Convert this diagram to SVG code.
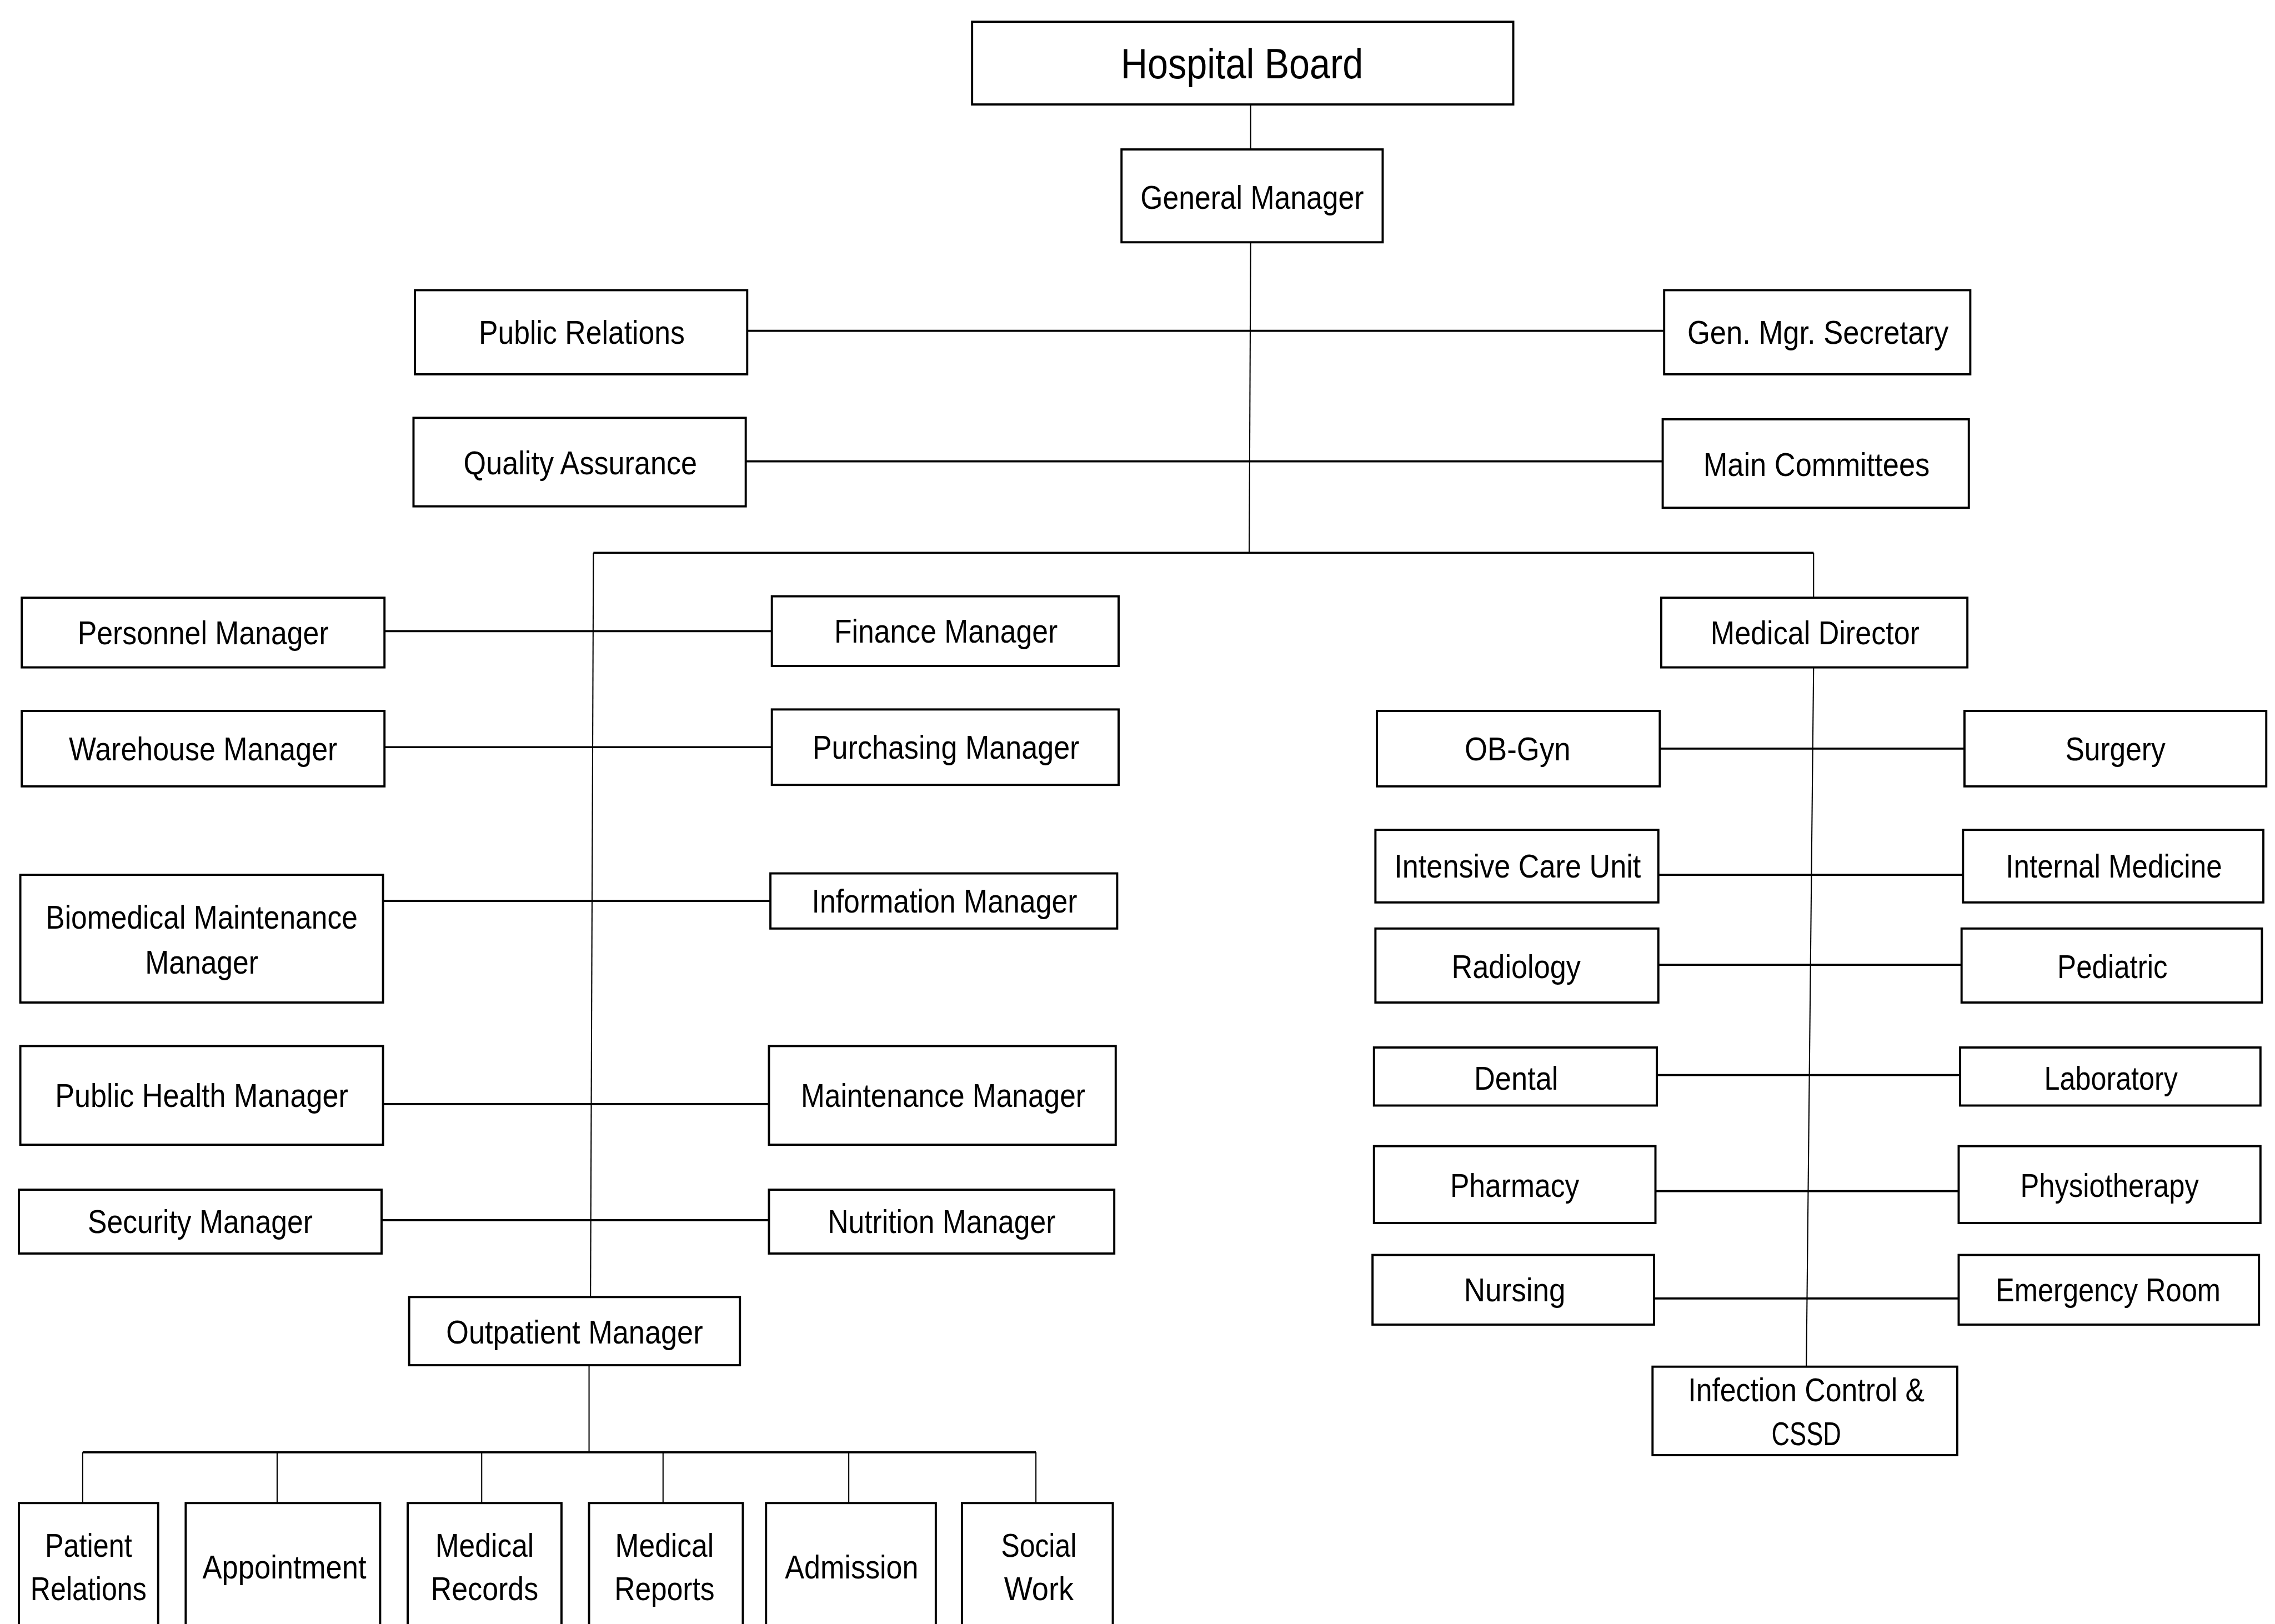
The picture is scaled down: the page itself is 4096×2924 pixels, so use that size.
<svg xmlns="http://www.w3.org/2000/svg" width="4096" height="2924" viewBox="0 0 4096 2924">
<style>
.b{fill:#fff;stroke:#000;stroke-width:1.5}
.t{font-family:"Liberation Sans",Arial,sans-serif;font-size:22.5px;fill:#000;text-anchor:middle}
.big{font-size:29px}
.h{stroke:#000;stroke-width:1.4;fill:none}
.v{stroke:#000;stroke-width:0.8;fill:none}
</style>
<rect width="4096" height="2924" fill="#fff"/>
<g transform="scale(2.6122)">
<g id="connectors">
<line class="v" x1="862" y1="72" x2="862" y2="103"/>
<line class="v" x1="862" y1="167" x2="861" y2="381"/>
<line class="h" x1="515" y1="228" x2="1147" y2="228"/>
<line class="h" x1="514" y1="318" x2="1146" y2="318"/>
<polyline class="h" points="409,381 1250,381"/>
<line class="v" x1="409" y1="381" x2="407" y2="894"/>
<line class="v" x1="1250" y1="381" x2="1250" y2="412"/>
<line class="h" x1="265" y1="435" x2="532" y2="435"/>
<line class="h" x1="265" y1="515" x2="532" y2="515"/>
<line class="h" x1="264" y1="621" x2="531" y2="621"/>
<line class="h" x1="264" y1="761" x2="530" y2="761"/>
<line class="h" x1="263" y1="841" x2="530" y2="841"/>
<line class="v" x1="406" y1="941" x2="406" y2="1001"/>
<line class="h" x1="57" y1="1001" x2="714" y2="1001"/>
<line class="v" x1="57" y1="1001" x2="57" y2="1036"/>
<line class="v" x1="191" y1="1001" x2="191" y2="1036"/>
<line class="v" x1="332" y1="1001" x2="332" y2="1036"/>
<line class="v" x1="457" y1="1001" x2="457" y2="1036"/>
<line class="v" x1="585" y1="1001" x2="585" y2="1036"/>
<line class="v" x1="714" y1="1001" x2="714" y2="1036"/>
<line class="v" x1="1250" y1="460" x2="1245" y2="942"/>
<line class="h" x1="1144" y1="516" x2="1354" y2="516"/>
<line class="h" x1="1143" y1="603" x2="1353" y2="603"/>
<line class="h" x1="1143" y1="665" x2="1352" y2="665"/>
<line class="h" x1="1142" y1="741" x2="1351" y2="741"/>
<line class="h" x1="1141" y1="821" x2="1350" y2="821"/>
<line class="h" x1="1140" y1="895" x2="1350" y2="895"/>
</g>
<g id="hospital-board"><rect class="b" x="670" y="15" width="373" height="57"/><text class="t big" x="856" y="54" textLength="167" lengthAdjust="spacingAndGlyphs">Hospital Board</text></g>
<g id="general-manager"><rect class="b" x="773" y="103" width="180" height="64"/><text class="t" x="863" y="144" textLength="154" lengthAdjust="spacingAndGlyphs">General Manager</text></g>
<g id="public-relations"><rect class="b" x="286" y="200" width="229" height="58"/><text class="t" x="401" y="237" textLength="142" lengthAdjust="spacingAndGlyphs">Public Relations</text></g>
<g id="gen-mgr-secretary"><rect class="b" x="1147" y="200" width="211" height="58"/><text class="t" x="1253" y="237" textLength="180" lengthAdjust="spacingAndGlyphs">Gen. Mgr. Secretary</text></g>
<g id="quality-assurance"><rect class="b" x="285" y="288" width="229" height="61"/><text class="t" x="400" y="327" textLength="161" lengthAdjust="spacingAndGlyphs">Quality Assurance</text></g>
<g id="main-committees"><rect class="b" x="1146" y="289" width="211" height="61"/><text class="t" x="1252" y="328" textLength="156" lengthAdjust="spacingAndGlyphs">Main Committees</text></g>
<g id="personnel-manager"><rect class="b" x="15" y="412" width="250" height="48"/><text class="t" x="140" y="444" textLength="173" lengthAdjust="spacingAndGlyphs">Personnel Manager</text></g>
<g id="finance-manager"><rect class="b" x="532" y="411" width="239" height="48"/><text class="t" x="652" y="443" textLength="154" lengthAdjust="spacingAndGlyphs">Finance Manager</text></g>
<g id="warehouse-manager"><rect class="b" x="15" y="490" width="250" height="52"/><text class="t" x="140" y="524" textLength="185" lengthAdjust="spacingAndGlyphs">Warehouse Manager</text></g>
<g id="purchasing-manager"><rect class="b" x="532" y="489" width="239" height="52"/><text class="t" x="652" y="523" textLength="184" lengthAdjust="spacingAndGlyphs">Purchasing Manager</text></g>
<g id="biomedical-maintenance-manager"><rect class="b" x="14" y="603" width="250" height="88"/><text class="t" x="139" y="640" textLength="215" lengthAdjust="spacingAndGlyphs">Biomedical Maintenance</text><text class="t" x="139" y="671" textLength="78" lengthAdjust="spacingAndGlyphs">Manager</text></g>
<g id="information-manager"><rect class="b" x="531" y="602" width="239" height="38"/><text class="t" x="651" y="629" textLength="183" lengthAdjust="spacingAndGlyphs">Information Manager</text></g>
<g id="public-health-manager"><rect class="b" x="14" y="721" width="250" height="68"/><text class="t" x="139" y="763" textLength="202" lengthAdjust="spacingAndGlyphs">Public Health Manager</text></g>
<g id="maintenance-manager"><rect class="b" x="530" y="721" width="239" height="68"/><text class="t" x="650" y="763" textLength="196" lengthAdjust="spacingAndGlyphs">Maintenance Manager</text></g>
<g id="security-manager"><rect class="b" x="13" y="820" width="250" height="44"/><text class="t" x="138" y="850" textLength="155" lengthAdjust="spacingAndGlyphs">Security Manager</text></g>
<g id="nutrition-manager"><rect class="b" x="530" y="820" width="238" height="44"/><text class="t" x="649" y="850" textLength="157" lengthAdjust="spacingAndGlyphs">Nutrition Manager</text></g>
<g id="outpatient-manager"><rect class="b" x="282" y="894" width="228" height="47"/><text class="t" x="396" y="926" textLength="177" lengthAdjust="spacingAndGlyphs">Outpatient Manager</text></g>
<g id="patient-relations"><rect class="b" x="13" y="1036" width="96" height="100"/><text class="t" x="61" y="1073" textLength="60" lengthAdjust="spacingAndGlyphs">Patient</text><text class="t" x="61" y="1103" textLength="80" lengthAdjust="spacingAndGlyphs">Relations</text></g>
<g id="appointment"><rect class="b" x="128" y="1036" width="134" height="100"/><text class="t" x="196" y="1088" textLength="113" lengthAdjust="spacingAndGlyphs">Appointment</text></g>
<g id="medical-records"><rect class="b" x="281" y="1036" width="106" height="100"/><text class="t" x="334" y="1073" textLength="68" lengthAdjust="spacingAndGlyphs">Medical</text><text class="t" x="334" y="1103" textLength="74" lengthAdjust="spacingAndGlyphs">Records</text></g>
<g id="medical-reports"><rect class="b" x="406" y="1036" width="106" height="100"/><text class="t" x="458" y="1073" textLength="68" lengthAdjust="spacingAndGlyphs">Medical</text><text class="t" x="458" y="1103" textLength="69" lengthAdjust="spacingAndGlyphs">Reports</text></g>
<g id="admission"><rect class="b" x="528" y="1036" width="117" height="100"/><text class="t" x="587" y="1088" textLength="92" lengthAdjust="spacingAndGlyphs">Admission</text></g>
<g id="social-work"><rect class="b" x="663" y="1036" width="104" height="100"/><text class="t" x="716" y="1073" textLength="52" lengthAdjust="spacingAndGlyphs">Social</text><text class="t" x="716" y="1103" textLength="48" lengthAdjust="spacingAndGlyphs">Work</text></g>
<g id="medical-director"><rect class="b" x="1145" y="412" width="211" height="48"/><text class="t" x="1251" y="444" textLength="144" lengthAdjust="spacingAndGlyphs">Medical Director</text></g>
<g id="ob-gyn"><rect class="b" x="949" y="490" width="195" height="52"/><text class="t" x="1046" y="524" textLength="73" lengthAdjust="spacingAndGlyphs">OB-Gyn</text></g>
<g id="surgery"><rect class="b" x="1354" y="490" width="208" height="52"/><text class="t" x="1458" y="524" textLength="69" lengthAdjust="spacingAndGlyphs">Surgery</text></g>
<g id="intensive-care-unit"><rect class="b" x="948" y="572" width="195" height="50"/><text class="t" x="1046" y="605" textLength="170" lengthAdjust="spacingAndGlyphs">Intensive Care Unit</text></g>
<g id="internal-medicine"><rect class="b" x="1353" y="572" width="207" height="50"/><text class="t" x="1457" y="605" textLength="149" lengthAdjust="spacingAndGlyphs">Internal Medicine</text></g>
<g id="radiology"><rect class="b" x="948" y="640" width="195" height="51"/><text class="t" x="1045" y="674" textLength="89" lengthAdjust="spacingAndGlyphs">Radiology</text></g>
<g id="pediatric"><rect class="b" x="1352" y="640" width="207" height="51"/><text class="t" x="1456" y="674" textLength="76" lengthAdjust="spacingAndGlyphs">Pediatric</text></g>
<g id="dental"><rect class="b" x="947" y="722" width="195" height="40"/><text class="t" x="1045" y="751" textLength="58" lengthAdjust="spacingAndGlyphs">Dental</text></g>
<g id="laboratory"><rect class="b" x="1351" y="722" width="207" height="40"/><text class="t" x="1455" y="751" textLength="92" lengthAdjust="spacingAndGlyphs">Laboratory</text></g>
<g id="pharmacy"><rect class="b" x="947" y="790" width="194" height="53"/><text class="t" x="1044" y="825" textLength="89" lengthAdjust="spacingAndGlyphs">Pharmacy</text></g>
<g id="physiotherapy"><rect class="b" x="1350" y="790" width="208" height="53"/><text class="t" x="1454" y="825" textLength="123" lengthAdjust="spacingAndGlyphs">Physiotherapy</text></g>
<g id="nursing"><rect class="b" x="946" y="865" width="194" height="48"/><text class="t" x="1044" y="897" textLength="70" lengthAdjust="spacingAndGlyphs">Nursing</text></g>
<g id="emergency-room"><rect class="b" x="1350" y="865" width="207" height="48"/><text class="t" x="1453" y="897" textLength="155" lengthAdjust="spacingAndGlyphs">Emergency Room</text></g>
<g id="infection-control-cssd"><rect class="b" x="1139" y="942" width="210" height="61"/><text class="t" x="1245" y="966" textLength="163" lengthAdjust="spacingAndGlyphs">Infection Control &amp;</text><text class="t" x="1245" y="996" textLength="48" lengthAdjust="spacingAndGlyphs">CSSD</text></g>
</g>
</svg>
